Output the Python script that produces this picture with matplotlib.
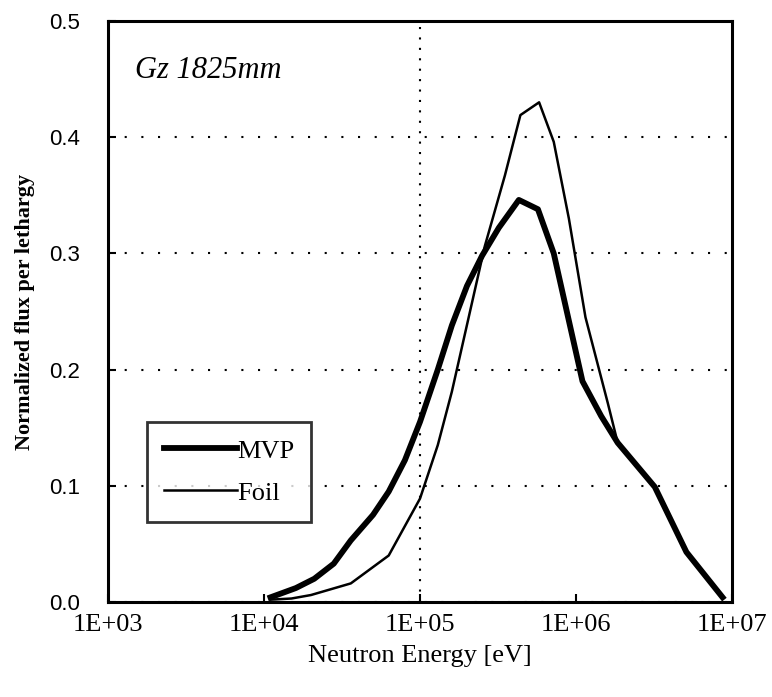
import matplotlib
matplotlib.use("Agg")
import matplotlib.pyplot as plt

# (energy in eV, normalized flux per lethargy)
mvp_e = [1.1e4, 1.6e4, 2.1e4, 2.8e4, 3.6e4, 5.0e4, 6.3e4, 8.0e4, 1.0e5, 1.3e5,
         1.6e5, 2.0e5, 2.5e5, 3.2e5, 4.3e5, 5.7e5, 7.2e5, 1.1e6, 1.45e6, 1.85e6,
         3.2e6, 5.1e6, 8.7e6]
mvp_flux = [0.004, 0.012, 0.020, 0.033, 0.053, 0.075, 0.095, 0.122, 0.155, 0.200,
            0.238, 0.272, 0.298, 0.322, 0.346, 0.338, 0.300, 0.190, 0.160, 0.137,
            0.099, 0.043, 0.004]

foil_e = [1.1e4, 1.5e4, 2.0e4, 3.6e4, 6.3e4, 1.0e5, 1.3e5, 1.6e5, 2.6e5, 3.5e5,
          4.4e5, 5.8e5, 7.2e5, 9.0e5, 1.15e6, 1.6e6, 1.85e6, 3.2e6, 5.1e6, 8.7e6]
foil_flux = [0.002, 0.003, 0.006, 0.016, 0.040, 0.089, 0.135, 0.181, 0.306, 0.367,
             0.419, 0.430, 0.396, 0.330, 0.245, 0.171, 0.137, 0.099, 0.043, 0.004]

x_ticks = [1e3, 1e4, 1e5, 1e6, 1e7]
x_labels = ['1E+03', '1E+04', '1E+05', '1E+06', '1E+07']
y_ticks = [0.0, 0.1, 0.2, 0.3, 0.4, 0.5]
y_labels = ['0.0', '0.1', '0.2', '0.3', '0.4', '0.5']

serif = ['Liberation Serif', 'DejaVu Serif']
sans = ['Liberation Sans', 'DejaVu Sans']

fig = plt.figure(figsize=(7.72, 6.97), dpi=100)
ax = fig.add_axes([0.1399, 0.1363, 0.8083, 0.8336])

ax.plot(mvp_e, mvp_flux, color='black', lw=4.2, label='MVP', solid_joinstyle='round')
ax.plot(foil_e, foil_flux, color='black', lw=1.8, label='Foil')

ax.set_xscale('log')
ax.set_xlim(1e3, 1e7)
ax.set_ylim(0, 0.5)
ax.set_xticks(x_ticks)
ax.set_xticklabels(x_labels, family=serif, fontsize=19)
ax.set_yticks(y_ticks)
ax.set_yticklabels(y_labels, family=sans, fontsize=16)
ax.minorticks_off()
ax.tick_params(direction='in', length=6, width=1.5)
ax.tick_params(axis='y', pad=20)
ax.tick_params(axis='x', pad=9)

ax.yaxis.grid(True, color='black', lw=1.5, ls=(0, (1, 7)))
ax.axvline(1e5, color='black', lw=1.5, ls=(0, (1, 4)), zorder=1)

for s in ax.spines.values():
    s.set_linewidth(2.2)

ax.set_xlabel('Neutron Energy [eV]', family=serif, fontsize=19, labelpad=6)
ax.set_ylabel('Normalized flux per lethargy', family=serif, fontsize=16,
              fontweight='bold', labelpad=10)

ax.text(0.043, 0.915, 'Gz 1825mm', transform=ax.transAxes, family=serif,
        style='italic', fontsize=22, va='center')

leg = ax.legend(loc='lower left', bbox_to_anchor=(0.0625, 0.138), fancybox=False,
                prop={'family': serif, 'size': 19}, handlelength=2.75,
                handletextpad=0.0, borderpad=0.65, labelspacing=0.7,
                borderaxespad=0)
leg.get_frame().set_edgecolor('black')
leg.get_frame().set_linewidth(2)

fig.savefig('out.png', dpi=100)
